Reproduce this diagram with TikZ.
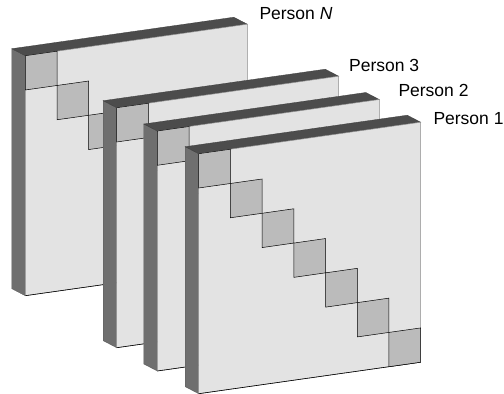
\documentclass[tikz,border=0pt]{standalone}
\usepackage{fontspec}
\setmainfont{Liberation Sans}
\definecolor{topc}{HTML}{4C4C4C}
\definecolor{sidec}{HTML}{6F6F6F}
\definecolor{frontc}{HTML}{E3E3E3}
\definecolor{blockc}{HTML}{BBBBBB}
\tikzset{
  topface/.style={fill=topc,draw=topc!80!black,line width=0.3pt},
  sideface/.style={fill=sidec,draw=sidec!80!black,line width=0.3pt},
  frontface/.style={fill=frontc,draw=black!45,line width=0.5pt},
  blockface/.style={fill=blockc,draw=black,line width=0.5pt},
  lbl/.style={anchor=base west,inner sep=0pt,font=\fontsize{17.5}{20}\selectfont}
}
\newcommand\myslab[2]{%
  \begin{scope}[shift={(#1,#2)},x={(1pt,0.14189pt)},y={(0pt,-1pt)}]
    \fill[sideface] (0,0) -- (0,240) -- (-13.5,231.08) -- (-13.5,-8.92) -- cycle;
    \fill[topface] (0,0) -- (222,0) -- (208.5,-8.92) -- (-13.5,-8.92) -- cycle;
    \filldraw[frontface] (0,0) -- (222,0) -- (222,240) -- (0,240) -- cycle;
    \draw[black,line width=0.6pt] (0,240) -- (222,240);
    \foreach \i in {0,...,6}{
      \filldraw[blockface] ({\i*222/7},{\i*240/7}) -- ({(\i+1)*222/7},{\i*240/7})
        -- ({(\i+1)*222/7},{(\i+1)*240/7}) -- ({\i*222/7},{(\i+1)*240/7}) -- cycle;
    }
  \end{scope}}
\begin{document}
\begin{tikzpicture}[x=1pt,y=-1pt]
  \useasboundingbox (0,0) rectangle (504,394);
  \myslab{25.3}{55.7}
  \myslab{116.7}{107.7}
  \myslab{157.3}{131}
  \myslab{198.7}{153.7}
  \node[lbl] (lN) at (259.3,19.3) {Person \textit{N}};
  \node[lbl] (l3) at (349.0,71.7) {Person 3};
  \node[lbl] (l2) at (398.3,96.7) {Person 2};
  \node[lbl] (l1) at (433.3,124.0) {Person 1};
\end{tikzpicture}
\end{document}
